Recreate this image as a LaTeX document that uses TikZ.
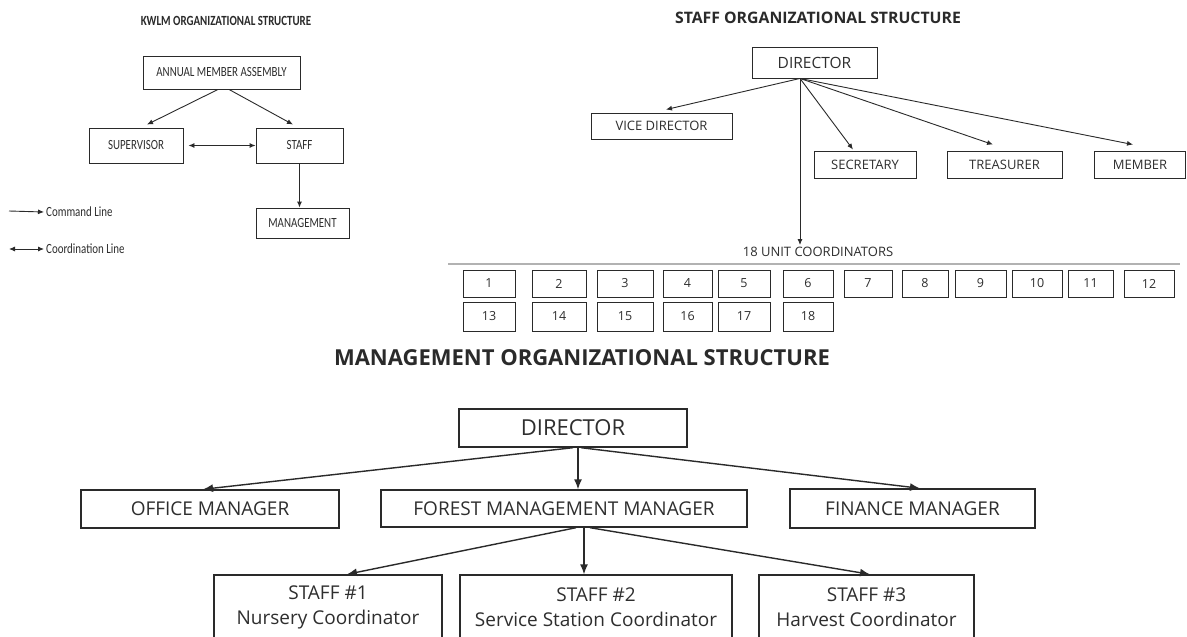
\documentclass[tikz,border=0pt]{standalone}
\usepackage{fontspec}
\setmainfont{Open Sans}
\newfontfamily\kfont[FakeStretch=0.78]{Carlito}
\usepackage{tikz}
\usetikzlibrary{calc}
\usetikzlibrary{positioning}
\usetikzlibrary{arrows.meta}
\definecolor{ink}{HTML}{2A2A2A}
\definecolor{txt}{HTML}{2E2E2E}

\begin{document}
\begin{tikzpicture}[x=1pt,y=-1pt,
		box/.style={rectangle, draw=ink, inner sep=0pt, text=txt},
		kbox/.style={box, line width=0.9pt, font=\kfont\fontsize{14}{16}\selectfont},
		sbox/.style={box, line width=0.9pt, font=\fontsize{13}{15}\selectfont},
		unitbox/.style={box, line width=0.9pt, font=\fontsize{12.5}{14}\selectfont},
		mbox/.style={box, line width=1.4pt, align=center, font=\fontsize{19}{25}\selectfont},
		cmdline/.style={draw=ink, line width=0.9pt, -{Latex[length=6pt,width=5pt]}},
		coline/.style={draw=ink, line width=0.9pt, {Latex[length=6pt,width=5pt]}-{Latex[length=6pt,width=5pt]}},
		bigarrow/.style={draw=ink, line width=1.4pt, -{Latex[length=10pt,width=8pt]}}]
	\path[fill=white, use as bounding box] (0,0) rectangle (1187,637);
	
	% KWLM
	\node[font=\kfont\bfseries\fontsize{14}{16}\selectfont, text=ink] (kt) at (226,21) {KWLM ORGANIZATIONAL STRUCTURE};
	\node[kbox, minimum width=157pt, minimum height=33pt] (ama) at (221.5,72.5) {ANNUAL MEMBER ASSEMBLY};
	\node[kbox, minimum width=94pt, minimum height=35pt] (sup) at (136,145.5) {SUPERVISOR};
	\node[kbox, minimum width=87pt, minimum height=35pt] (stf) at (299.5,145.5) {STAFF};
	\node[kbox, minimum width=93pt, minimum height=30pt] (mgt) at (302.5,223) {MANAGEMENT};
	
	\draw[cmdline] ([xshift=-3.5pt]ama.south) -- ([xshift=11pt,yshift=3pt]sup.north);
	\draw[cmdline] ([xshift=7.5pt]ama.south) -- ([xshift=-6.5pt,yshift=3pt]stf.north);
	\draw[coline] ([xshift=5pt]sup.east) -- (stf.west);
	\draw[cmdline] (stf.south) -- (stf.south |- mgt.north);
	
	\coordinate (c1) at (9,211);
	\coordinate (c2) at (9,249);
	\node[anchor=west, inner sep=2pt, text=txt, font=\kfont\fontsize{14}{16}\selectfont] (cl) at (44,212) {Command Line};
	\node[anchor=west, inner sep=2pt, text=txt, font=\kfont\fontsize{14}{16}\selectfont] (dl) at (44,249) {Coordination Line};
	\draw[cmdline] (c1) -- (cl.west);
	\draw[coline] (c2) -- (dl.west);
	
	% STAFF
	\node[font=\bfseries\fontsize{15.8}{18}\selectfont, text=ink] (st) at (818,18) {STAFF ORGANIZATIONAL STRUCTURE};
	\node[sbox, font=\fontsize{15.5}{18}\selectfont, minimum width=125pt, minimum height=31pt] (d1) at (814.5,62.5) {DIRECTOR};
	\node[sbox, minimum width=141pt, minimum height=26pt] (vd) at (661.5,126) {VICE DIRECTOR};
	\node[sbox, minimum width=102pt, minimum height=27pt] (sec) at (865,164.5) {SECRETARY};
	\node[sbox, minimum width=115pt, minimum height=27pt] (tre) at (1004.5,164.5) {TREASURER};
	\node[sbox, minimum width=91pt, minimum height=27pt] (mem) at (1140,164.5) {MEMBER};
	\node[font=\fontsize{13}{15}\selectfont, text=txt, inner sep=1pt] (uc) at (818,252) {18 UNIT COORDINATORS};
	
	\draw[cmdline] ([xshift=-14.5pt]d1.south) -- ([xshift=4.5pt,yshift=3pt]vd.north);
	\draw[cmdline] ([xshift=-14.5pt]d1.south) -- ([xshift=-12pt,yshift=1pt]sec.north);
	\draw[cmdline] ([xshift=-14.5pt]d1.south) -- ([xshift=-11.5pt,yshift=6pt]tre.north);
	\draw[cmdline] ([xshift=-14.5pt]d1.south) -- ([xshift=-7pt,yshift=6pt]mem.north);
	\draw[cmdline] ([xshift=-14.5pt]d1.south) -- ([xshift=-18pt,yshift=1pt]uc.north);
	
	\draw[gray!60, line width=1.6pt] (448,264) -- (1180,264);
	
	\node[unitbox, minimum width=52pt, minimum height=27pt] (u1) at (489,283.5) {1};
	\node[unitbox, minimum width=54pt, minimum height=27pt] (u2) at (559,283.5) {2};
	\node[unitbox, minimum width=56pt, minimum height=27pt] (u3) at (625,283.5) {3};
	\node[unitbox, minimum width=49pt, minimum height=27pt] (u4) at (687.5,283.5) {4};
	\node[unitbox, minimum width=52pt, minimum height=27pt] (u5) at (744,283.5) {5};
	\node[unitbox, minimum width=50pt, minimum height=27pt] (u6) at (808,283.5) {6};
	\node[unitbox, minimum width=48pt, minimum height=27pt] (u7) at (868,283.5) {7};
	\node[unitbox, minimum width=46pt, minimum height=27pt] (u8) at (925,283.5) {8};
	\node[unitbox, minimum width=51pt, minimum height=27pt] (u9) at (980.5,283.5) {9};
	\node[unitbox, minimum width=50pt, minimum height=27pt] (u10) at (1037,283.5) {10};
	\node[unitbox, minimum width=45pt, minimum height=27pt] (u11) at (1090.5,283.5) {11};
	\node[unitbox, minimum width=50pt, minimum height=27pt] (u12) at (1149,283.5) {12};
	\node[unitbox, minimum width=52pt, minimum height=29pt] (u13) at (489,316.5) {13};
	\node[unitbox, minimum width=54pt, minimum height=29pt] (u14) at (559,316.5) {14};
	\node[unitbox, minimum width=56pt, minimum height=29pt] (u15) at (625,316.5) {15};
	\node[unitbox, minimum width=49pt, minimum height=29pt] (u16) at (687.5,316.5) {16};
	\node[unitbox, minimum width=52pt, minimum height=29pt] (u17) at (744,316.5) {17};
	\node[unitbox, minimum width=50pt, minimum height=29pt] (u18) at (808,316.5) {18};
	
	% MANAGEMENT
	\node[font=\bfseries\fontsize{22}{24}\selectfont, text=ink] (mt) at (582,358) {MANAGEMENT ORGANIZATIONAL STRUCTURE};
	\node[mbox, font=\fontsize{22}{24}\selectfont, minimum width=228pt, minimum height=38pt] (d2) at (573,428) {DIRECTOR};
	\node[mbox, minimum width=258pt, minimum height=38pt] (om) at (210,509) {OFFICE MANAGER};
	\node[mbox, minimum width=366pt, minimum height=37pt] (fmm) at (564,508.5) {FOREST MANAGEMENT MANAGER};
	\node[mbox, minimum width=245pt, minimum height=39pt] (fm) at (912.5,508.5) {FINANCE MANAGER};
	\node[mbox, minimum width=228pt, minimum height=65pt] (s1) at (328,607.5) {STAFF \#1\\Nursery Coordinator};
	\node[mbox, minimum width=272pt, minimum height=65pt] (s2) at (596,607.5) {STAFF \#2\\Service Station Coordinator};
	\node[mbox, minimum width=215pt, minimum height=65pt] (s3) at (866.5,607.5) {STAFF \#3\\Harvest Coordinator};
	
	\draw[bigarrow] (d2.south) -- ([xshift=-7pt]om.north);
	\draw[bigarrow] ([xshift=5pt]d2.south) -- ([xshift=14pt]fmm.north);
	\draw[bigarrow] ([xshift=8pt]d2.south) -- ([xshift=7.5pt]fm.north);
	\draw[bigarrow] ([xshift=12pt]fmm.south) -- ([xshift=19pt]s1.north);
	\draw[bigarrow] ([xshift=20pt]fmm.south) -- ([xshift=-12pt]s2.north);
	\draw[bigarrow] ([xshift=26pt]fmm.south) -- ([xshift=3.5pt]s3.north);
\end{tikzpicture}
\end{document}
